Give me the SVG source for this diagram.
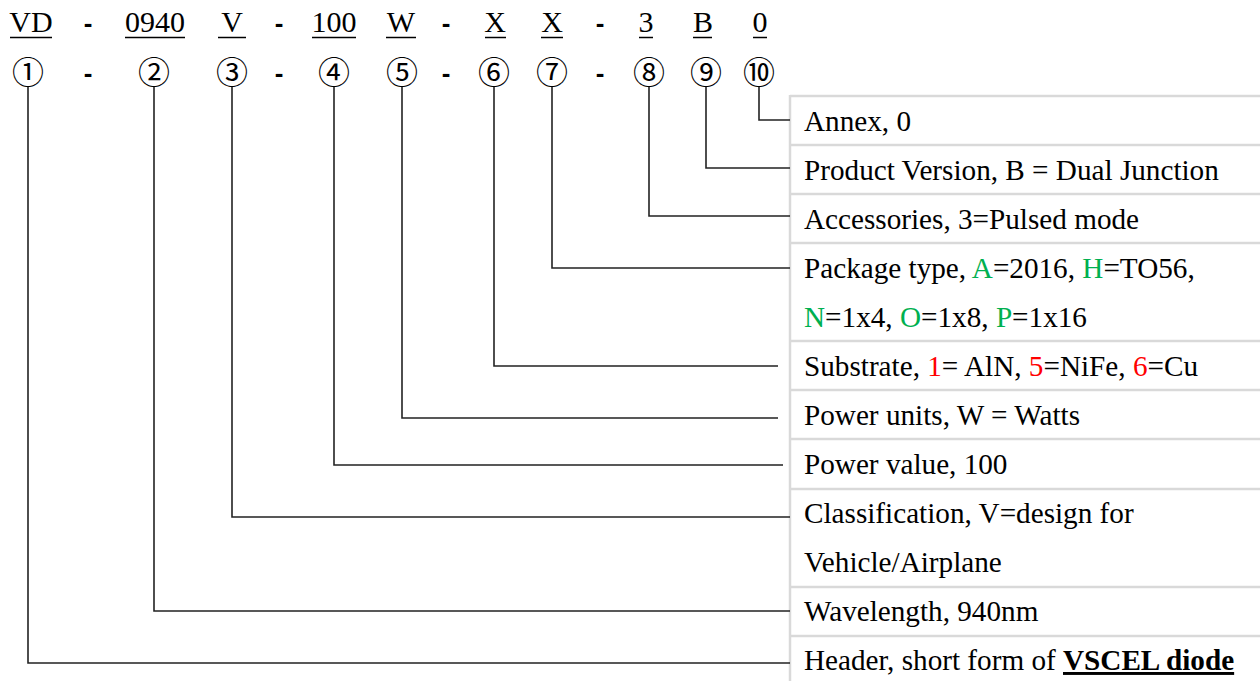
<svg xmlns="http://www.w3.org/2000/svg" width="1260" height="681" viewBox="0 0 1260 681">
<style>
.code{font-family:"Liberation Serif","Times New Roman",serif;font-size:30px;fill:#000;text-anchor:middle}
.dash{font-family:"Liberation Sans",Arial,sans-serif;font-size:26px;font-weight:bold;fill:#000;text-anchor:middle}
.circ{font-family:"Noto Sans CJK JP","Noto Sans CJK SC",sans-serif;font-size:32px;fill:#000;text-anchor:middle}
.ul{stroke:#000;stroke-width:1.5}
.lbl{font-family:"Liberation Serif","Times New Roman",serif;font-size:29.2px;fill:#000}
.g{fill:#00B050}
.r{fill:#FF0000}
.grid{stroke:#d9d9d9;stroke-width:2.5;fill:none}
.conn{stroke:#222;stroke-width:1.6;fill:none}
</style>
<rect width="1260" height="681" fill="#fff"/>
<g id="code">
<text class="code" x="31" y="32">VD</text>
<text class="code" x="155" y="32">0940</text>
<text class="code" x="232" y="32">V</text>
<text class="code" x="334" y="32">100</text>
<text class="code" x="401" y="32">W</text>
<text class="code" x="495" y="32">X</text>
<text class="code" x="552" y="32">X</text>
<text class="code" x="646" y="32">3</text>
<text class="code" x="703" y="32">B</text>
<text class="code" x="760" y="32">0</text>
<line class="ul" x1="10" y1="37.5" x2="52" y2="37.5"/>
<line class="ul" x1="125" y1="37.5" x2="185" y2="37.5"/>
<line class="ul" x1="218" y1="37.5" x2="246" y2="37.5"/>
<line class="ul" x1="312" y1="37.5" x2="356" y2="37.5"/>
<line class="ul" x1="386" y1="37.5" x2="416" y2="37.5"/>
<line class="ul" x1="485" y1="37.5" x2="506" y2="37.5"/>
<line class="ul" x1="541" y1="37.5" x2="563" y2="37.5"/>
<line class="ul" x1="639" y1="37.5" x2="653" y2="37.5"/>
<line class="ul" x1="693" y1="37.5" x2="712" y2="37.5"/>
<line class="ul" x1="753" y1="37.5" x2="767" y2="37.5"/>
<text class="dash" x="88" y="32">-</text>
<text class="dash" x="279" y="32">-</text>
<text class="dash" x="446" y="32">-</text>
<text class="dash" x="600" y="32">-</text>
</g>
<g id="numbers">
<text class="circ" x="28" y="84">①</text>
<text class="circ" x="154" y="84">②</text>
<text class="circ" x="232" y="84">③</text>
<text class="circ" x="334" y="84">④</text>
<text class="circ" x="402" y="84">⑤</text>
<text class="circ" x="494" y="84">⑥</text>
<text class="circ" x="552" y="84">⑦</text>
<text class="circ" x="649" y="84">⑧</text>
<text class="circ" x="706" y="84">⑨</text>
<text class="circ" x="759" y="84">⑩</text>
<text class="dash" x="88" y="82">-</text>
<text class="dash" x="279" y="82">-</text>
<text class="dash" x="446" y="82">-</text>
<text class="dash" x="600" y="82">-</text>
</g>
<g id="table">
<line class="grid" x1="790" y1="95" x2="790" y2="681"/>
<line class="grid" x1="790" y1="96" x2="1260" y2="96"/>
<line class="grid" x1="790" y1="145" x2="1260" y2="145"/>
<line class="grid" x1="790" y1="194" x2="1260" y2="194"/>
<line class="grid" x1="790" y1="243" x2="1260" y2="243"/>
<line class="grid" x1="790" y1="341" x2="1260" y2="341"/>
<line class="grid" x1="790" y1="390" x2="1260" y2="390"/>
<line class="grid" x1="790" y1="439" x2="1260" y2="439"/>
<line class="grid" x1="790" y1="489" x2="1260" y2="489"/>
<line class="grid" x1="790" y1="587" x2="1260" y2="587"/>
<line class="grid" x1="790" y1="636" x2="1260" y2="636"/>
</g>
<g id="row10"><text class="lbl" x="804" y="131">Annex, 0</text></g>
<g id="row9"><text class="lbl" x="804" y="180">Product Version, B = Dual Junction</text></g>
<g id="row8"><text class="lbl" x="804" y="229">Accessories, 3=Pulsed mode</text></g>
<g id="row7">
<text class="lbl" x="804" y="278">Package type, <tspan class="g">A</tspan>=2016, <tspan class="g">H</tspan>=TO56,</text>
<text class="lbl" x="804" y="327"><tspan class="g">N</tspan>=1x4, <tspan class="g">O</tspan>=1x8, <tspan class="g">P</tspan>=1x16</text>
</g>
<g id="row6"><text class="lbl" x="804" y="376">Substrate, <tspan class="r">1</tspan>= AlN, <tspan class="r">5</tspan>=NiFe, <tspan class="r">6</tspan>=Cu</text></g>
<g id="row5"><text class="lbl" x="804" y="425">Power units, W = Watts</text></g>
<g id="row4"><text class="lbl" x="804" y="474">Power value, 100</text></g>
<g id="row3">
<text class="lbl" x="804" y="523">Classification, V=design for</text>
<text class="lbl" x="804" y="572">Vehicle/Airplane</text>
</g>
<g id="row2"><text class="lbl" x="804" y="621">Wavelength, 940nm</text></g>
<g id="row1"><text class="lbl" x="804" y="670">Header, short form of <tspan font-weight="bold" text-decoration="underline">VSCEL diode</tspan></text></g>
<g id="connectors">
<polyline class="conn" points="759,87 759,120 790,120"/>
<polyline class="conn" points="706,87 706,168 790,168"/>
<polyline class="conn" points="649,87 649,216 790,216"/>
<polyline class="conn" points="552,87 552,268 790,268"/>
<polyline class="conn" points="494,87 494,366 778,366"/>
<polyline class="conn" points="402,87 402,418 778,418"/>
<polyline class="conn" points="334,87 334,465 783,465"/>
<polyline class="conn" points="232,87 232,517 790,517"/>
<polyline class="conn" points="154,87 154,611 790,611"/>
<polyline class="conn" points="28,87 28,663 790,663"/>
</g>
</svg>
